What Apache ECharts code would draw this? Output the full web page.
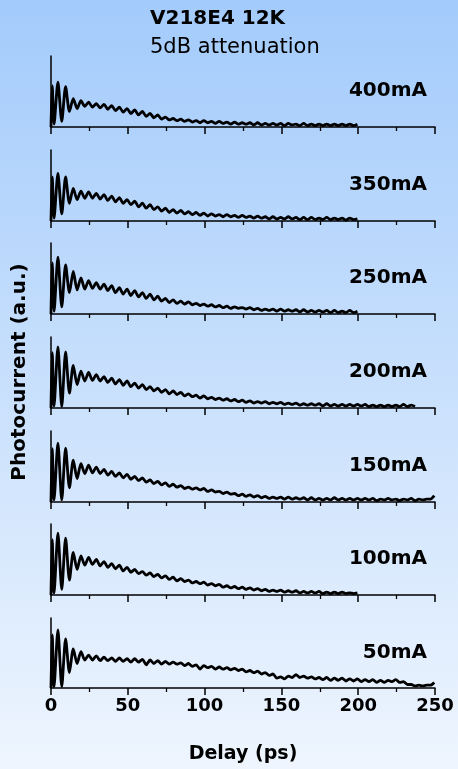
<!DOCTYPE html>
<html>
<head>
<meta charset="utf-8">
<script src="https://cdn.jsdelivr.net/npm/echarts@6/dist/echarts.min.js"></script>
<style>
html,body{margin:0;padding:0;}
#chart{width:458px;height:769px;}
</style>
</head>
<body>
<div id="chart"></div>
<script>
// Panel labels (top to bottom)
var currents = ['400mA','350mA','250mA','200mA','150mA','100mA','50mA'];
var xTicks = [0, 50, 100, 150, 200, 250];
// Height of the initial spike at ~0.8 ps (a.u.)
var spikes = [58, 62, 72, 78, 75, 78, 76];
// Photocurrent (a.u., 0-100 of panel height); first point at delay 0 is 0,
// then samples every 2.5 ps starting at 2 ps
var p400 = [4,63,8,57,22,40,26,37,29,35, 28,33,27,32,25,30,23,28,21,26, 19,24,17,22,15,19,13,17,11,14, 10,12,9,11,8,10,7,9,6,9,
            6,8,5,8,5,7,4,7,4,6, 4,6,3,6,3,5,3,5,3,5, 2,5,3,4,2,5,2,4,2,4, 2,4,2,4,2,4,2,4,2,4];
var p350 = [4,67,10,62,25,46,30,42,32,41, 32,39,31,37,29,35,27,33,25,30, 23,28,20,25,18,23,16,20,14,18, 12,16,11,15,10,13,9,12,8,11,
            7,10,7,9,6,9,6,8,5,8, 5,7,4,7,4,6,3,6,3,5, 3,6,3,5,2,5,2,5,2,4, 2,5,2,4,2,4,1,4,2,3];
var p250 = [4,80,10,69,30,60,34,51,35,47, 36,44,35,42,33,40,30,37,28,35, 26,33,24,30,22,28,20,25,18,22, 16,20,15,18,14,17,13,15,12,14,
            11,13,10,12,9,11,8,10,8,9, 7,9,6,8,5,7,5,7,4,7, 4,6,4,6,3,6,3,5,3,5, 3,5,2,5,2,4,2,5,2,4];
var p200 = [3,86,2,79,21,60,33,52,38,50, 39,47,38,44,36,42,34,40,32,38, 30,35,28,33,26,30,24,28,22,26, 20,24,19,22,17,20,16,18,14,17,
            13,15,12,14,11,13,10,12,9,11, 8,10,7,9,7,9,6,8,6,8, 5,7,5,7,4,6,4,6,4,6, 3,6,3,5,3,5,3,5,3,5,
            3,5,2,4,2,4,2,4,2,4, 2,5,2,4,2];
var p150 = [3,83,3,76,20,59,33,54,40,52, 41,49,40,46,38,43,36,41,34,39, 32,36,30,34,28,31,26,29,24,27, 22,25,21,23,19,21,18,20,17,19,
            15,17,14,15,12,14,11,12,9,11, 8,10,7,9,6,8,5,7,5,7, 4,7,4,6,4,6,3,6,3,5, 3,5,3,6,3,5,3,5,3,5,
            3,5,3,5,2,4,3,5,3,4, 2,4,3,5,2,4,3,4,4,9];
var p100 = [3,87,8,80,21,60,36,55,42,53, 43,50,41,47,39,44,37,42,34,39, 32,36,30,33,28,31,26,29,24,27, 22,25,20,23,19,21,17,19,16,18,
            14,16,13,15,11,13,10,12,9,11, 8,10,7,9,6,8,5,7,5,7, 4,6,4,6,3,5,3,5,3,5, 2,4,2,4,2,4,2,3,2,3];
var p50  = [2,83,2,70,22,56,35,52,40,47, 40,46,39,44,39,43,38,43,38,42, 37,42,37,41,33,40,35,39,34,38, 34,37,34,36,32,35,31,33,27,32,
            29,31,27,30,27,29,26,28,25,27, 23,25,22,24,20,22,18,20,14,16, 13,17,15,19,15,17,14,16,13,15, 12,15,11,14,11,14,10,13,10,13,
            9,12,9,12,8,11,8,11,9,12, 8,9,5,5,3,4,3,4,4,8];

var seriesValues = [p400, p350, p250, p200, p150, p100, p50];
var START = 2, STEP = 2.5, SPIKE_X = 0.8;

var tops = [56,150,243,337,431,524,618];
var H = 71;
var FONT = '"DejaVu Sans", sans-serif';

var grids = [], xAxes = [], yAxes = [], series = [], graphics = [];
for (var i = 0; i < 7; i++) {
  grids.push({left: 51, right: 23, top: tops[i], height: (i === 6 ? 70 : H)});
  xAxes.push({
    gridIndex: i, type: 'value', min: xTicks[0], max: xTicks[xTicks.length-1], interval: 50,
    axisLine: {show: true, onZero: false, lineStyle: {color: '#000', width: 1.5}},
    axisTick: {show: true, inside: false, length: 7, lineStyle: {color: '#000', width: 1.5}},
    minorTick: {show: true, splitNumber: 2, length: 4, lineStyle: {color: '#000', width: 1.3}},
    splitLine: {show: false},
    axisLabel: {show: i === 6, fontSize: 18, fontWeight: 'bold', color: '#000', fontFamily: FONT, margin: 9}
  });
  yAxes.push({
    gridIndex: i, type: 'value', min: 0, max: 100,
    axisLine: {show: true, onZero: false, lineStyle: {color: '#000', width: 1.5}},
    axisTick: {show: false}, axisLabel: {show: false}, splitLine: {show: false}
  });
  var vals = seriesValues[i];
  var pts = [[0, 0], [SPIKE_X, spikes[i]]];
  for (var k = 0; k < vals.length; k++) pts.push([START + STEP * k, vals[k]]);
  series.push({
    type: 'line', xAxisIndex: i, yAxisIndex: i, data: pts, symbol: 'none',
    smooth: 0.25, lineStyle: {color: '#000', width: 2.8}, silent: true, animation: false
  });
  graphics.push({
    type: 'text', x: 427, y: tops[i] + H - 36,
    style: {text: currents[i], font: 'bold 20px ' + FONT, fill: '#000', align: 'right', verticalAlign: 'middle'}
  });
}
graphics.push({type: 'text', x: 150, y: 19, style: {text: 'V218E4 12K', font: 'bold 20px ' + FONT, fill: '#000', align: 'left', verticalAlign: 'middle'}});
graphics.push({type: 'text', x: 150, y: 48, style: {text: '5dB attenuation', font: '21px ' + FONT, fill: '#000', align: 'left', verticalAlign: 'middle'}});
graphics.push({type: 'text', x: 243, y: 754, style: {text: 'Delay (ps)', font: 'bold 19px ' + FONT, fill: '#000', align: 'center', verticalAlign: 'middle'}});
graphics.push({type: 'text', x: 20, y: 372, rotation: Math.PI / 2, style: {text: 'Photocurrent (a.u.)', font: 'bold 20px ' + FONT, fill: '#000', align: 'center', verticalAlign: 'middle'}});

var chart = echarts.init(document.getElementById('chart'));
chart.setOption({
  animation: false,
  backgroundColor: {type: 'linear', x: 0, y: 0, x2: 0, y2: 1,
    colorStops: [{offset: 0, color: '#a3cbfb'}, {offset: 1, color: '#eef5fe'}]},
  grid: grids, xAxis: xAxes, yAxis: yAxes, series: series, graphic: graphics
});
</script>
</body>
</html>
